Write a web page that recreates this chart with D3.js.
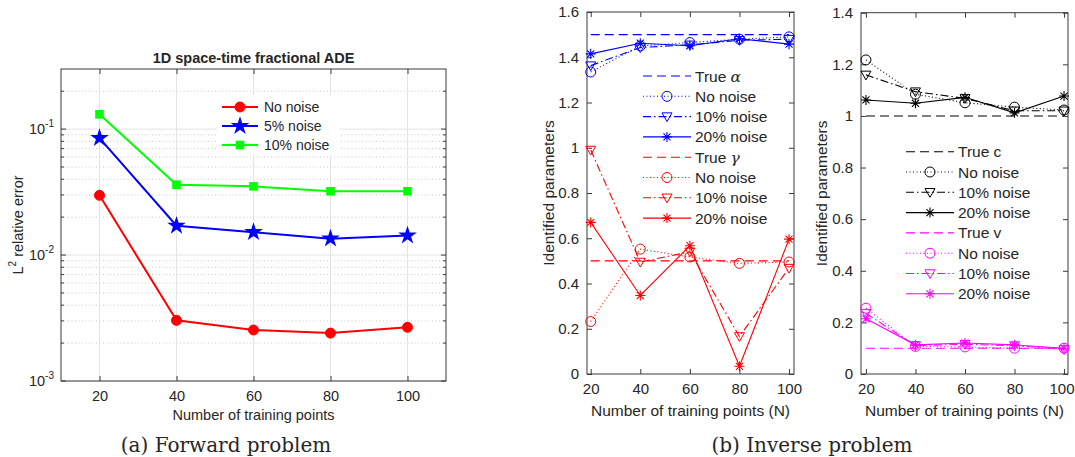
<!DOCTYPE html>
<html><head><meta charset="utf-8">
<script src="https://cdn.jsdelivr.net/npm/d3@7"></script>
<style>body{margin:0;background:#fff}text{font-family:"Liberation Sans",Arial,sans-serif;fill:#262626}</style>
</head><body><svg id="c" width="1075" height="457"></svg>
<script>
// ---------- data ----------
const N = [20, 40, 60, 80, 100];
// (a) forward problem: L2 relative error
const fwdNoNoise = [0.0298, 0.00303, 0.00254, 0.0024, 0.00267];
const fwd5 = [0.0849, 0.0171, 0.0152, 0.0135, 0.0143];
const fwd10 = [0.131, 0.0362, 0.0351, 0.0321, 0.0321];
const fwdLabels = ["No noise", "5% noise", "10% noise"];
const fwdYTicks = [1e-3, 1e-2, 1e-1];
const fwdYTickExp = ["-3", "-2", "-1"];
// (b) inverse problem, panel 1
const trueAlpha = 1.5;
const alphaNo = [1.335, 1.45, 1.465, 1.48, 1.49];
const alpha10 = [1.363, 1.443, 1.455, 1.475, 1.48];
const alpha20 = [1.415, 1.462, 1.451, 1.482, 1.458];
const trueGamma = 0.5;
const gammaNo = [0.232, 0.552, 0.517, 0.489, 0.495];
const gamma10 = [0.99, 0.495, 0.54, 0.166, 0.468];
const gamma20 = [0.67, 0.347, 0.567, 0.034, 0.596];
const inv1YTicks = [0, 0.2, 0.4, 0.6, 0.8, 1, 1.2, 1.4, 1.6];
// (b) inverse problem, panel 2
const trueC = 1.0;
const cNo = [1.217, 1.084, 1.051, 1.034, 1.023];
const c10 = [1.159, 1.094, 1.068, 1.02, 1.02];
const c20 = [1.062, 1.049, 1.072, 1.012, 1.077];
const trueV = 0.1;
const vNo = [0.255, 0.107, 0.105, 0.10, 0.10];
const v10 = [0.235, 0.11, 0.115, 0.11, 0.095];
const v20 = [0.214, 0.113, 0.12, 0.113, 0.10];
const inv2YTicks = [0, 0.2, 0.4, 0.6, 0.8, 1, 1.2, 1.4];
const noiseLabels = ["No noise", "10% noise", "20% noise"];

const svg = d3.select("#c");
const AX = "#3a3a3a";

function marker(g, type, x, y, color, filled, r) {
  if (type === "circle") {
    g.append("circle").attr("cx", x).attr("cy", y).attr("r", r)
      .attr("fill", filled ? color : "none").attr("stroke", color).attr("stroke-width", 1);
  } else if (type === "square") {
    g.append("rect").attr("x", x - r).attr("y", y - r).attr("width", 2 * r).attr("height", 2 * r)
      .attr("fill", color);
  } else if (type === "star") {
    g.append("path").attr("transform", `translate(${x},${y})`)
      .attr("d", d3.symbol(d3.symbolStar, r * r * 2.2)()).attr("fill", color);
  } else if (type === "tri") {
    g.append("path").attr("d", `M${x - r},${y - r * 0.75}L${x + r},${y - r * 0.75}L${x},${y + r}Z`)
      .attr("fill", "none").attr("stroke", color).attr("stroke-width", 1);
  } else if (type === "ast") {
    const d = r * 0.707;
    g.append("path").attr("d",
      `M${x - r},${y}L${x + r},${y}M${x},${y - r}L${x},${y + r}M${x - d},${y - d}L${x + d},${y + d}M${x - d},${y + d}L${x + d},${y - d}`)
      .attr("stroke", color).attr("stroke-width", 1.1).attr("fill", "none");
  }
}

// ---------- (a) forward problem ----------
(function () {
  const x0 = 61, x1 = 446, y0 = 69, y1 = 381;
  const xs = d3.scaleLinear([10, 110], [x0, x1]);
  const ys = d3.scaleLog([1e-3, 0.3], [y1, y0]);
  const g = svg.append("g");
  const minors = [];
  for (let e = -3; e <= -1; e++) for (let m = 2; m <= 9; m++) { const v = m * Math.pow(10, e); if (v <= 0.3) minors.push(v); }
  g.selectAll(".mg").data(minors).join("line").attr("x1", x0).attr("x2", x1)
    .attr("y1", d => ys(d)).attr("y2", d => ys(d)).attr("stroke", "#c8c8c8").attr("stroke-dasharray", "1,2.5");
  g.selectAll(".gy").data(fwdYTicks).join("line").attr("x1", x0).attr("x2", x1)
    .attr("y1", d => ys(d)).attr("y2", d => ys(d)).attr("stroke", "#e3e3e3");
  g.selectAll(".gx").data(N).join("line").attr("y1", y0).attr("y2", y1)
    .attr("x1", d => xs(d)).attr("x2", d => xs(d)).attr("stroke", "#e3e3e3");
  g.append("g").attr("transform", `translate(0,${y1})`)
    .call(d3.axisBottom(xs).tickValues(N).tickSize(-5).tickPadding(10).tickSizeOuter(0))
    .call(a => { a.select(".domain").remove(); a.selectAll("text").attr("font-size", 14.5).attr("fill", "#262626").style("font-family", "Liberation Sans"); a.selectAll("line").attr("stroke", AX); });
  g.append("g").attr("transform", `translate(0,${y0})`)
    .call(d3.axisTop(xs).tickValues(N).tickSize(-5).tickFormat("").tickSizeOuter(0))
    .call(a => { a.select(".domain").remove(); a.selectAll("line").attr("stroke", AX); });
  [x0, x1].forEach((xx, i) => {
    const dir = i === 0 ? 1 : -1;
    g.selectAll(null).data(minors).join("line").attr("x1", xx).attr("x2", xx + dir * 3)
      .attr("y1", d => ys(d)).attr("y2", d => ys(d)).attr("stroke", AX);
    g.selectAll(null).data(fwdYTicks).join("line").attr("x1", xx).attr("x2", xx + dir * 5)
      .attr("y1", d => ys(d)).attr("y2", d => ys(d)).attr("stroke", AX);
  });
  g.append("rect").attr("x", x0).attr("y", y0).attr("width", x1 - x0).attr("height", y1 - y0)
    .attr("fill", "none").attr("stroke", AX).attr("stroke-width", 1);
  fwdYTicks.forEach((v, i) => {
    const t = g.append("text").attr("x", x0 - 7).attr("y", ys(v) + 5).attr("text-anchor", "end").attr("font-size", 14.5);
    t.append("tspan").text("10");
    t.append("tspan").attr("dy", -7).attr("font-size", 10).text(fwdYTickExp[i]);
  });
  g.append("text").attr("x", (x0 + x1) / 2).attr("y", 420).attr("text-anchor", "middle").attr("font-size", 14.5)
    .text("Number of training points");
  const yl = g.append("text").attr("transform", `translate(23,${(y0 + y1) / 2}) rotate(-90)`)
    .attr("text-anchor", "middle").attr("font-size", 14.5);
  yl.append("tspan").text("L");
  yl.append("tspan").attr("dy", -7).attr("font-size", 10).text("2");
  yl.append("tspan").attr("dy", 7).text(" relative error");
  g.append("text").attr("x", (x0 + x1) / 2).attr("y", 63).attr("text-anchor", "middle")
    .attr("font-size", 14.5).attr("font-weight", "bold").text("1D space-time fractional ADE");

  const series = [
    { v: fwdNoNoise, c: "#ff0000", m: "circle", r: 5 },
    { v: fwd5, c: "#0000ff", m: "star", r: 7 },
    { v: fwd10, c: "#00ff00", m: "square", r: 4.3 }
  ];
  const line = d3.line().x((d, i) => xs(N[i])).y(d => ys(d));
  series.forEach(s => {
    g.append("path").attr("d", line(s.v)).attr("fill", "none").attr("stroke", s.c).attr("stroke-width", 2);
    s.v.forEach((d, i) => marker(g, s.m, xs(N[i]), ys(d), s.c, true, s.r));
  });
  g.append("rect").attr("x", 217).attr("y", 95).attr("width", 122).attr("height", 60).attr("fill", "#fff");
  series.forEach((s, i) => {
    const yy = 107 + i * 19;
    g.append("line").attr("x1", 222).attr("x2", 258).attr("y1", yy).attr("y2", yy).attr("stroke", s.c).attr("stroke-width", 2);
    marker(g, s.m, 240, yy, s.c, true, s.r);
    g.append("text").attr("x", 264).attr("y", yy + 5).attr("font-size", 14).text(fwdLabels[i]);
  });
  svg.append("text").attr("x", 226).attr("y", 452).attr("text-anchor", "middle")
    .style("font-family", "DejaVu Serif, serif").attr("font-size", 20).text("(a) Forward problem");
})();

// ---------- (b) inverse problem panels ----------
const DASH = "9,5", DOT = "1,2.5", DASHDOT = "8,3,1.5,3";
function invPanel(o) {
  const { x0, x1, y0, y1, xdom, ydom, yticks, groups, legX, legY, labX, clampLast } = o;
  const xs = d3.scaleLinear(xdom, [x0, x1]);
  const ys = d3.scaleLinear(ydom, [y1, y0]);
  const g = svg.append("g");
  const fmt = d3.format("~g");
  g.append("g").attr("transform", `translate(0,${y1})`)
    .call(d3.axisBottom(xs).tickValues(N).tickSize(-5).tickPadding(9).tickSizeOuter(0))
    .call(a => {
      a.select(".domain").remove();
      a.selectAll("text").attr("font-size", 15).attr("fill", "#262626").style("font-family", "Liberation Sans");
      a.selectAll("line").attr("stroke", AX);
      if (clampLast) a.selectAll("text").filter(d => d === N[N.length - 1]).attr("text-anchor", "end").attr("x", 1074 - xs(N[N.length - 1]));
    });
  g.append("g").attr("transform", `translate(0,${y0})`)
    .call(d3.axisTop(xs).tickValues(N).tickSize(-5).tickFormat("").tickSizeOuter(0))
    .call(a => { a.select(".domain").remove(); a.selectAll("line").attr("stroke", AX); });
  g.append("g").attr("transform", `translate(${x0},0)`)
    .call(d3.axisLeft(ys).tickValues(yticks).tickFormat(fmt).tickSize(-5).tickPadding(8).tickSizeOuter(0))
    .call(a => { a.select(".domain").remove(); a.selectAll("text").attr("font-size", 15).attr("fill", "#262626").style("font-family", "Liberation Sans"); a.selectAll("line").attr("stroke", AX); });
  g.append("g").attr("transform", `translate(${x1},0)`)
    .call(d3.axisRight(ys).tickValues(yticks).tickFormat("").tickSize(-5).tickSizeOuter(0))
    .call(a => { a.select(".domain").remove(); a.selectAll("line").attr("stroke", AX); });
  g.append("rect").attr("x", x0).attr("y", y0).attr("width", x1 - x0).attr("height", y1 - y0)
    .attr("fill", "none").attr("stroke", AX).attr("stroke-width", 1);
  g.append("text").attr("x", (x0 + x1) / 2).attr("y", 416).attr("text-anchor", "middle").attr("font-size", 15.5)
    .text("Number of training points (N)");
  g.append("text").attr("transform", `translate(${labX},${(y0 + y1) / 2}) rotate(-90)`)
    .attr("text-anchor", "middle").attr("font-size", 15.5).text("Identified parameters");

  const line = d3.line().x((d, i) => xs(N[i])).y(d => ys(d));
  const legendItems = [];
  groups.forEach(gr => {
    const tv = N.map(() => gr.trueVal);
    g.append("path").attr("d", line(tv)).attr("fill", "none").attr("stroke", gr.color)
      .attr("stroke-width", 1.1).attr("stroke-dasharray", DASH);
    legendItems.push({ color: gr.color, dash: DASH, m: null, label: gr.trueLabel });
    const specs = [
      { v: gr.no, dash: DOT, m: "circle" },
      { v: gr.n10, dash: DASHDOT, m: "tri" },
      { v: gr.n20, dash: null, m: "ast" }
    ];
    specs.forEach((s, k) => {
      const p = g.append("path").attr("d", line(s.v)).attr("fill", "none").attr("stroke", gr.color).attr("stroke-width", 1.1);
      if (s.dash) p.attr("stroke-dasharray", s.dash);
      s.v.forEach((d, i) => marker(g, s.m, xs(N[i]), ys(d), gr.color, false, 5));
      legendItems.push({ color: gr.color, dash: s.dash, m: s.m, label: noiseLabels[k] });
    });
  });
  legendItems.forEach((it, i) => {
    const yy = legY + i * 20.3;
    const l = g.append("line").attr("x1", legX).attr("x2", legX + 48).attr("y1", yy).attr("y2", yy)
      .attr("stroke", it.color).attr("stroke-width", 1.1);
    if (it.dash) l.attr("stroke-dasharray", it.dash);
    if (it.m) marker(g, it.m, legX + 24, yy, it.color, false, 5);
    const t = g.append("text").attr("x", legX + 52).attr("y", yy + 5.5).attr("font-size", 15.5);
    if (it.label.sym) {
      t.append("tspan").text(it.label.text);
      t.append("tspan").style("font-family", "DejaVu Serif, serif").attr("font-style", "italic").text(it.label.sym);
    } else t.text(it.label);
  });
}

invPanel({
  x0: 587, x1: 794, y0: 12, y1: 374, xdom: [18.5, 102], ydom: [0, 1.6], yticks: inv1YTicks,
  legX: 643, legY: 76, labX: 554, clampLast: false,
  groups: [
    { color: "#0000ff", trueVal: trueAlpha, trueLabel: { text: "True ", sym: "α" }, no: alphaNo, n10: alpha10, n20: alpha20 },
    { color: "#ff0000", trueVal: trueGamma, trueLabel: { text: "True ", sym: "γ" }, no: gammaNo, n10: gamma10, n20: gamma20 }
  ]
});
invPanel({
  x0: 861, x1: 1068, y0: 12.7, y1: 374, xdom: [18, 101.6], ydom: [0, 1.4], yticks: inv2YTicks,
  legX: 906, legY: 151.7, labX: 827, clampLast: true,
  groups: [
    { color: "#000000", trueVal: trueC, trueLabel: "True c", no: cNo, n10: c10, n20: c20 },
    { color: "#ff00ff", trueVal: trueV, trueLabel: "True v", no: vNo, n10: v10, n20: v20 }
  ]
});
svg.append("text").attr("x", 812).attr("y", 452).attr("text-anchor", "middle")
  .style("font-family", "DejaVu Serif, serif").attr("font-size", 20).text("(b) Inverse problem");
</script></body></html>
